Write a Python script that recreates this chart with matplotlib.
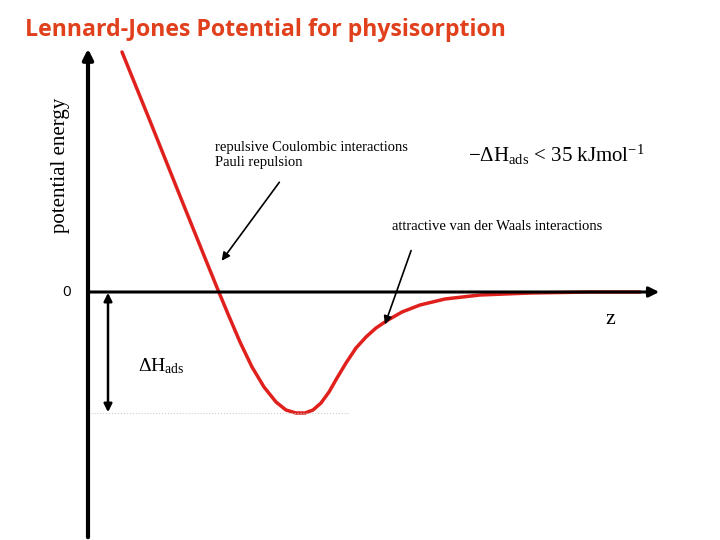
import matplotlib
matplotlib.use("Agg")
import matplotlib.pyplot as plt

plt.rcParams["mathtext.fontset"] = "custom"
plt.rcParams["mathtext.rm"] = "Liberation Serif"
plt.rcParams["mathtext.it"] = "Liberation Serif:italic"
plt.rcParams["mathtext.sf"] = "Liberation Serif"

# curve points (pixel coordinates)
curve_x = [122, 150, 180, 205, 218, 228, 240, 252, 264, 276, 286, 296, 305, 313, 321, 329, 337, 346, 356, 366, 376, 388, 402, 420, 445, 480, 530, 590, 640]
curve_y = [52, 121, 196, 258, 290, 314, 342, 367, 387, 402, 410, 413, 413, 410, 403, 392, 378, 363, 348, 337, 328, 320, 312, 305, 299, 295, 293, 292, 292]

fig = plt.figure(figsize=(7.2, 5.4), dpi=100)
ax = fig.add_axes([0, 0, 1, 1])
ax.set_xlim(0, 720)
ax.set_ylim(540, 0)
ax.axis("off")

ax.plot(curve_x, curve_y, color="#e0201c", lw=2.5, solid_capstyle="round", solid_joinstyle="round")

ax.annotate("", xy=(88, 46), xytext=(88, 540),
            arrowprops=dict(arrowstyle="-|>", color="black", lw=3, mutation_scale=15))
ax.annotate("", xy=(662, 292), xytext=(86, 292),
            arrowprops=dict(arrowstyle="-|>", color="black", lw=2.2, mutation_scale=15))
ax.plot([88, 350], [413, 413], color="#cccccc", lw=0.8, ls=":")
ax.annotate("", xy=(108, 415), xytext=(108, 290),
            arrowprops=dict(arrowstyle="<|-|>", color="black", lw=1.8, mutation_scale=12))

ax.text(25, 30, "Lennard-Jones Potential for physisorption", color="#e0401c",
        fontsize=16.7, fontweight="bold", family="Open Sans", va="center", ha="left")
ax.text(60, 165, "potential energy", rotation=90, fontsize=15, family="Liberation Serif",
        ha="center", va="center")
ax.text(67, 293, "0", fontsize=11, family="Open Sans", ha="center", va="center")
ax.text(610, 320, "z", fontsize=16, family="Liberation Serif", ha="center", va="center")
ax.text(138, 366, r"$\mathrm{\Delta H_{ads}}$", fontsize=14, ha="left", va="center")
ax.text(215, 155, "repulsive Coulombic interactions\nPauli repulsion", fontsize=10.5,
        family="Liberation Serif", ha="left", va="center", linespacing=1.2)
ax.text(468, 155, r"$\mathrm{-\Delta H_{ads}}$ < 35 kJmol$^{\mathrm{-1}}$", fontsize=15,
        family="Liberation Serif", ha="left", va="center")
ax.text(392, 226, "attractive van der Waals interactions", fontsize=10.5,
        family="Liberation Serif", ha="left", va="center")

ax.annotate("", xy=(220, 263), xytext=(281, 180),
            arrowprops=dict(arrowstyle="-|>", color="black", lw=1.2, mutation_scale=12))
ax.annotate("", xy=(384, 327), xytext=(412, 248),
            arrowprops=dict(arrowstyle="-|>", color="black", lw=1.2, mutation_scale=12))

fig.savefig("out.png", dpi=100)
